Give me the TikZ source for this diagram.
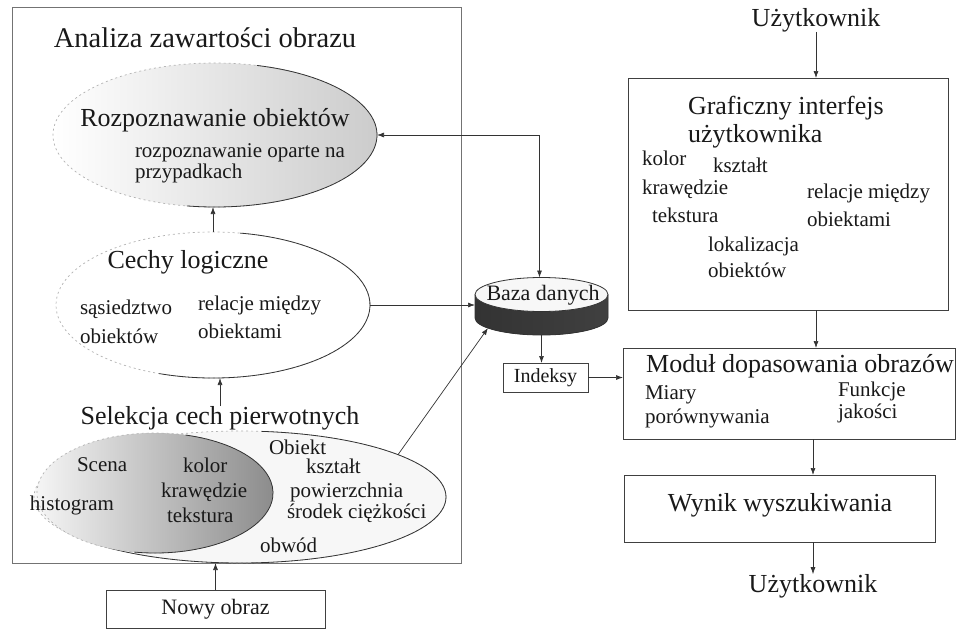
\documentclass[tikz,border=0pt]{standalone}
\usepackage{fontspec}
\setmainfont{Liberation Serif}
\usetikzlibrary{shapes.geometric,arrows.meta}
\begin{document}
\begin{tikzpicture}[x=1pt,y=-1pt,
  every node/.style={inner sep=0pt, outer sep=0pt, text=black!90},
  big/.style={font=\fontsize{26}{29}\selectfont},
  ttl/.style={font=\fontsize{28.5}{31}\selectfont},
  med/.style={font=\fontsize{21}{24}\selectfont},
  lft/.style={anchor=west},
  box/.style={draw=black!75, line width=0.7pt, rectangle},
  ell/.style={ellipse, draw=black!30, line width=0.7pt, dash pattern=on 2pt off 3pt},
  rim/.style={draw=black!80, line width=0.8pt},
  arr/.style={draw=black!80, line width=0.7pt, -{Latex[length=7pt,width=5pt]}},
  arrb/.style={draw=black!80, line width=0.7pt, {Latex[length=7pt,width=5pt]}-{Latex[length=7pt,width=5pt]}},
]
\useasboundingbox (0,0) rectangle (959,629);
\fill[white] (0,0) rectangle (959,629);

% outer frame
\node[draw=black!55, line width=0.7pt, minimum width=449pt, minimum height=556pt] (frame) at (236.5,285) {};

% ellipses
\node[ell, left color=white, right color=black!20, minimum width=324pt, minimum height=144pt] (rz) at (215,135) {};
\draw[rim] ([shift={(-100:162pt and 72pt)}]rz.center) arc[start angle=-100, end angle=75, x radius=162pt, y radius=72pt];

\node[ell, fill=white, minimum width=314pt, minimum height=146pt] (cl) at (213,305) {};
\draw[rim] ([shift={(-110:157pt and 73pt)}]cl.center) arc[start angle=-110, end angle=80, x radius=157pt, y radius=73pt];

\node[ell, fill=black!3, minimum width=412pt, minimum height=132pt] (ob) at (240,497) {};
\draw[rim] ([shift={(-135:206pt and 66pt)}]ob.center) arc[start angle=-135, end angle=84, x radius=206pt, y radius=66pt];

\node[ell, left color=black!4, right color=black!45, minimum width=236pt, minimum height=120pt] (sc) at (155,493) {};
\draw[rim] ([shift={(-100:118pt and 60pt)}]sc.center) arc[start angle=-100, end angle=75, x radius=118pt, y radius=60pt];

% texts left
\node[ttl] (t0) at (205,38) {Analiza zawartości obrazu};
\node[big] (t1) at (215,120) {Rozpoznawanie obiektów};
\node[med,lft] (t2) at (135,153) {rozpoznawanie oparte na};
\node[med,lft] (t3) at (135,173) {przypadkach};
\node[big] (t4) at (188,262) {Cechy logiczne};
\node[med,lft] (t5) at (80,309) {sąsiedztwo};
\node[med,lft] (t6) at (80,336) {obiektów};
\node[med,lft] (t7) at (198,305) {relacje między};
\node[med,lft] (t8) at (198,331) {obiektami};
\node[big] (sel) at (220,418) {Selekcja cech pierwotnych};
\node[med,lft] (s1) at (77,465) {Scena};
\node[med,lft] (s2) at (183,465) {kolor};
\node[med,lft] (s3) at (161,492) {krawędzie};
\node[med,lft] (s4) at (30,505) {histogram};
\node[med,lft] (s5) at (167,515) {tekstura};
\node[med,lft] (o1) at (269,447) {Obiekt};
\node[med,lft] (o2) at (306,466) {kształt};
\node[med,lft] (o3) at (290,492) {powierzchnia};
\node[med,lft] (o4) at (287,513) {środek ciężkości};
\node[med,lft] (o5) at (260,545) {obwód};

% Nowy obraz
\node[box, minimum width=219pt, minimum height=38pt, font=\fontsize{22}{24}\selectfont] (nowy) at (215.5,609) {Nowy obraz};

% database cylinder
\fill[left color=black!80, middle color=black!55, right color=black!75] (475,294.5) -- (475,318) arc[start angle=180, end angle=360, x radius=66.5pt, y radius=17pt] -- (608,294.5) -- cycle;
\draw[rim] (475,294.5) -- (475,318) arc[start angle=180, end angle=360, x radius=66.5pt, y radius=17pt] -- (608,294.5);
\node[ellipse, draw=black!80, line width=0.8pt, fill=black!3, minimum width=133pt, minimum height=34pt] (db) at (541.5,294.5) {};
\node[font=\fontsize{22}{24}\selectfont] (dbt) at (543,295) {Baza danych};
\coordinate (dbsw) at (488,328);

% Indeksy
\node[box, minimum width=85pt, minimum height=29pt, font=\fontsize{20}{22}\selectfont] (idx) at (545.5,377.5) {Indeksy};

% right column
\node[big] (u1) at (816,20) {Użytkownik};
\node[box, minimum width=320pt, minimum height=232pt] (gui) at (788,194) {};
\node[big,lft] (g1) at (688,108) {Graficzny interfejs};
\node[big,lft] (g2) at (688,136) {użytkownika};
\node[med,lft] (g3) at (642,158) {kolor};
\node[med,lft] (g4) at (713,165) {kształt};
\node[med,lft] (g5) at (642,189) {krawędzie};
\node[med,lft] (g6) at (652,215) {tekstura};
\node[med,lft] (g7) at (807,193) {relacje między};
\node[med,lft] (g8) at (807,219) {obiektami};
\node[med,lft] (g9) at (708,246) {lokalizacja};
\node[med,lft] (g10) at (708,270) {obiektów};

\node[box, minimum width=332pt, minimum height=91pt] (mod) at (789,393.5) {};
\node[big] (m1) at (800,366) {Moduł dopasowania obrazów};
\node[med,lft] (m2) at (645,395) {Miary};
\node[med,lft] (m3) at (645,418) {porównywania};
\node[med,lft] (m4) at (838,391) {Funkcje};
\node[med,lft] (m5) at (838,413) {jakości};

\node[box, minimum width=311pt, minimum height=67pt] (wyn) at (779.5,508.5) {};
\node[big] (w1) at (780,505) {Wynik wyszukiwania};
\node[big] (u2) at (813,586) {Użytkownik};

% connectors
\draw[arr] (cl.north) -- (cl.north |- rz.south);
\draw[arr] (sel.north) -- (sel.north |- cl.south);
\draw[arr] (nowy.north) -- (nowy.north |- ob.south);
\draw[arr] (cl.east) -- (cl.east -| db.west);
\draw[arr] (ob.15) -- (dbsw);
\draw[arrb] (rz.east) -| ([xshift=-2pt]db.north);
\draw[arr] ([yshift=-23.5pt]db.south) -- (idx.north -| db.south);
\draw[arr] (idx.east) -- (idx.east -| mod.west);
\draw[arr] (u1.south) -- (u1.south |- gui.north);
\draw[arr] (gui.south -| u1.south) -- (mod.north -| u1.south);
\draw[arr] (mod.south -| u2.north) -- (wyn.north -| u2.north);
\draw[arr] (wyn.south -| u2.north) -- (u2.north);
\end{tikzpicture}
\end{document}
